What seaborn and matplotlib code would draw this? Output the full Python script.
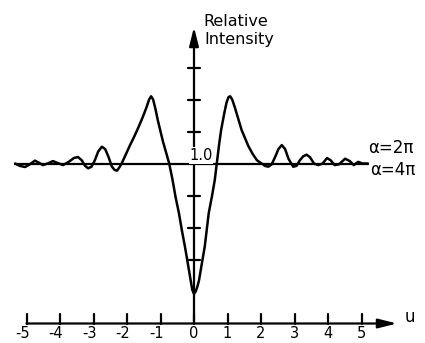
import numpy as np
import pandas as pd
import seaborn as sns
import matplotlib.pyplot as plt

# Relative intensity curve (u, intensity)
curve_u = [-5.34, -5.2, -5.04, -4.9, -4.75, -4.63, -4.51, -4.37, -4.21, -4.07, -3.91,
           -3.74, -3.58, -3.46, -3.35, -3.25, -3.16, -3.06, -2.96, -2.86, -2.75,
           -2.65, -2.55, -2.45, -2.37, -2.3, -2.23, -2.16, -2.05, -1.92, -1.78,
           -1.65, -1.53, -1.42, -1.34, -1.28, -1.22, -1.15, -1.08, -0.93, -0.74,
           -0.64, -0.55, -0.45, -0.36, -0.27, -0.18, -0.10, -0.05, 0.0, 0.05,
           0.1, 0.15, 0.23, 0.32, 0.44, 0.54, 0.62, 0.68, 0.75, 0.81, 0.9,
           0.97, 1.03, 1.08, 1.14, 1.22, 1.32, 1.42, 1.52, 1.62, 1.75, 1.88,
           2.02, 2.12, 2.22, 2.32, 2.42, 2.52, 2.62, 2.72, 2.82, 2.96, 3.06,
           3.16, 3.26, 3.36, 3.46, 3.58, 3.71, 3.84, 3.97, 4.08, 4.2, 4.33,
           4.51, 4.65, 4.77, 4.9, 5.03, 5.19]
curve_i = [1.0, 0.985, 0.978, 0.995, 1.018, 1.005, 0.99, 1.0, 1.015, 1.003, 0.99,
           1.01, 1.035, 1.04, 1.02, 0.985, 0.97, 0.98, 1.02, 1.075, 1.105,
           1.09, 1.04, 0.98, 0.96, 0.955, 0.975, 1.0, 1.05, 1.11, 1.17,
           1.23, 1.29, 1.35, 1.40, 1.42, 1.40, 1.34, 1.27, 1.14, 1.0,
           0.897, 0.79, 0.69, 0.58, 0.48, 0.37, 0.27, 0.21, 0.185, 0.2,
           0.23, 0.27, 0.37, 0.48, 0.69, 0.80, 0.897, 1.0, 1.12, 1.21, 1.31,
           1.38, 1.415, 1.42, 1.40, 1.35, 1.28, 1.21, 1.16, 1.11, 1.06, 1.02,
           1.0, 0.985, 0.98, 0.995, 1.04, 1.09, 1.115, 1.09, 1.03, 0.98, 0.985,
           1.02, 1.045, 1.055, 1.04, 1.0, 0.99, 1.0, 1.034, 1.02, 0.99, 0.995,
           1.03, 1.015, 0.99, 1.01, 1.0, 1.0]

# flat reference line at intensity 1.0
flat_u = [-5.34, 5.19]
flat_i = [1.0, 1.0]

x_ticks = [-5, -4, -3, -2, -1, 0, 1, 2, 3, 4, 5]
x_tick_labels = ['-5', '-4', '-3', '-2', '-1', '0', '1', '2', '3', '4', '5']
y_ticks = [0.4, 0.6, 0.8, 1.2, 1.4, 1.6]

sns.set_style('white')
plt.rcParams['font.family'] = ['DejaVu Sans']
plt.rcParams['text.color'] = 'black'

fig = plt.figure(figsize=(4.25, 3.43), dpi=100)
ax = fig.add_axes([0, 0, 1, 1])
ax.set_xlim(-194 / 33.5, (425 - 194) / 33.5)
ax.set_ylim(-(343 - 323.5) / 160, 323.5 / 160)
ax.axis('off')

sns.lineplot(x=flat_u, y=flat_i, sort=False, estimator=None, color='black', lw=1.6, ax=ax)
sns.lineplot(x=curve_u, y=curve_i, sort=False, estimator=None, color='black', lw=1.8, ax=ax)

# axes with arrow heads
arrow = dict(arrowstyle='-|>,head_length=0.8,head_width=0.2', lw=1.6, color='black',
             mutation_scale=14, shrinkA=0, shrinkB=0)
ax.annotate('', xy=(6.06, 0), xytext=(-5, 0), arrowprops=arrow)
ax.annotate('', xy=(0, 1.853), xytext=(0, 0), arrowprops=arrow)

for t, lab in zip(x_ticks, x_tick_labels):
    ax.plot([t, t], [0, 0.0625], color='black', lw=1.6)
    off = -0.12 if t < 0 else 0
    ax.text(t + off, -0.065, lab, ha='center', va='center', fontsize=10.5)

for t in y_ticks:
    ax.plot([-0.18, 0.18], [t, t], color='black', lw=1.6)

ax.text(0.21, 1.05, '1.0', ha='center', va='center', fontsize=10.5,
        bbox=dict(facecolor='white', edgecolor='none', pad=0.5))
ax.text(0.28, 1.86, 'Relative', ha='left', va='baseline', fontsize=11.5)
ax.text(0.3, 1.745, 'Intensity', ha='left', va='baseline', fontsize=11.5)
ax.text(5.19, 1.094, 'α=2π', ha='left', va='center', fontsize=12)
ax.text(5.25, 0.96, 'α=4π', ha='left', va='center', fontsize=12)
ax.text(6.45, 0.04, 'u', ha='center', va='center', fontsize=12)

fig.savefig('out.png', dpi=100)
